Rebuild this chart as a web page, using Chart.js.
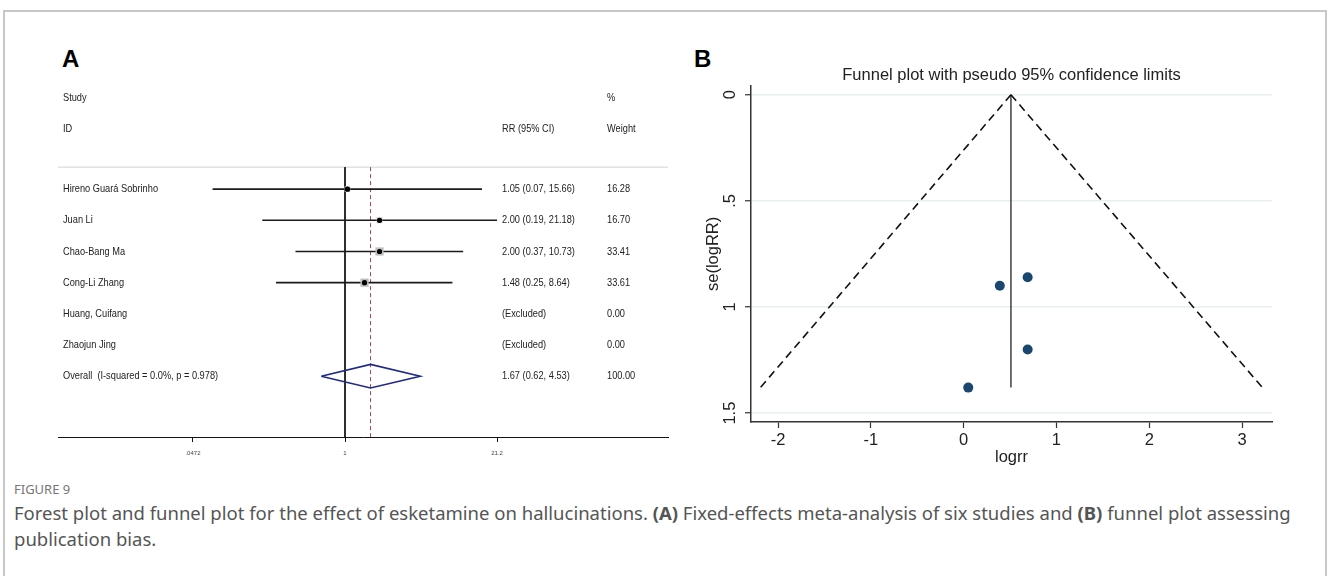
<!DOCTYPE html>
<html>
<head>
<meta charset="utf-8">
<script src="https://cdn.jsdelivr.net/npm/chart.js@4.4.7/dist/chart.umd.min.js"></script>
<style>
  body { margin: 0; width: 1328px; height: 576px; background: #fff; overflow: hidden; position: relative; font-family: "Liberation Sans", Arial, sans-serif; }
  #frame { position: absolute; left: 3px; top: 10px; width: 1320px; height: 600px; border: 2px solid #c8c8c8; border-bottom: none; }
  .panel-label { position: absolute; font: bold 24px "Liberation Sans", Arial, sans-serif; line-height: 24px; color: #000; }
  #forestWrap { position: absolute; left: 0; top: 0; width: 690px; height: 470px; }
  #funnelWrap { position: absolute; left: 680px; top: 40px; width: 640px; height: 440px; }
  #figTitle { position: absolute; left: 14px; top: 480px; font: 13px "Noto Sans", sans-serif; color: #777; }
  #caption { position: absolute; left: 14px; top: 500px; width: 1310px; font: 18.5px "Noto Sans", sans-serif; line-height: 26px; color: #555; }
</style>
</head>
<body>
<div id="frame"></div>
<div class="panel-label" style="left:62px; top:47px;">A</div>
<div class="panel-label" style="left:694px; top:47px;">B</div>
<div id="forestWrap"><canvas id="forestChart"></canvas></div>
<div id="funnelWrap"><canvas id="funnelChart"></canvas></div>
<div id="figTitle">FIGURE 9</div>
<div id="caption">Forest plot and funnel plot for the effect of esketamine on hallucinations. <b>(A)</b> Fixed-effects meta-analysis of six studies and <b>(B)</b> funnel plot assessing<br>publication bias.</div>

<script>
// forest plot (A)
const studies = ["Hireno Guará Sobrinho", "Juan Li", "Chao-Bang Ma", "Cong-Li Zhang", "Huang, Cuifang", "Zhaojun Jing"];
const rr = [1.05, 2.00, 2.00, 1.48, null, null];
const ciLow = [0.07, 0.19, 0.37, 0.25, null, null];
const ciHigh = [15.66, 21.18, 10.73, 8.64, null, null];
const weights = [16.28, 16.70, 33.41, 33.61, 0.00, 0.00];
const overallLabel = "Overall  (I-squared = 0.0%, p = 0.978)";
const pooledRR = 1.67;
const pooledLow = 0.62;
const pooledHigh = 4.53;
const forestTicks = [0.0472, 1, 21.2];
const forestTickLabels = [".0472", "1", "21.2"];

// funnel plot (B)
const logrr = [0.05, 0.69, 0.69, 0.39];
const seLogRR = [1.38, 1.20, 0.86, 0.90];
const pooledLogRR = 0.51;
const funnelBottom = 1.38;
const funnelLeft = -2.19;
const funnelRight = 3.22;
const logrrTicks = [-2, -1, 0, 1, 2, 3];
const seTicks = [0, 0.5, 1, 1.5];
const seTickLabels = ["0", ".5", "1", "1.5"];

const textColor = "#222222";
const tableFont = '11px "Liberation Sans", Arial, sans-serif';

const forestXMin = 0.00314;
const forestXMax = 656;
const sepRow = -0.705;
const forestYMin = -3.5;
const forestYMax = 7.95;
const overallRow = studies.length;

function rrText(i) {
  if (rr[i] === null) {
    return "(Excluded)";
  }
  return `${rr[i].toFixed(2)} (${ciLow[i].toFixed(2)}, ${ciHigh[i].toFixed(2)})`;
}

// narrow text like the Stata output
function narrowText(ctx, text, x, y) {
  ctx.save();
  ctx.translate(x, y);
  ctx.scale(0.84, 1);
  ctx.fillText(text, 0, 0);
  ctx.restore();
}

const forestTable = {
  id: "forestTable",
  afterDatasetsDraw(chart) {
    const ctx = chart.ctx;
    const yScale = chart.scales.y;
    const nameX = 63;
    const rrX = 502;
    const weightX = 607;
    ctx.save();
    ctx.font = tableFont;
    ctx.fillStyle = textColor;
    ctx.textBaseline = "middle";
    ctx.textAlign = "left";
    const headTop = yScale.getPixelForValue(-2.92);
    const headBottom = yScale.getPixelForValue(-1.92);
    narrowText(ctx, "Study", nameX, headTop);
    narrowText(ctx, "%", weightX, headTop);
    narrowText(ctx, "ID", nameX, headBottom);
    narrowText(ctx, "RR (95% CI)", rrX, headBottom);
    narrowText(ctx, "Weight", weightX, headBottom);
    studies.forEach((name, i) => {
      const y = yScale.getPixelForValue(i);
      narrowText(ctx, name, nameX, y);
      narrowText(ctx, rrText(i), rrX, y);
      narrowText(ctx, weights[i].toFixed(2), weightX, y);
    });
    const yo = yScale.getPixelForValue(overallRow);
    narrowText(ctx, overallLabel, nameX, yo);
    narrowText(ctx, `${pooledRR.toFixed(2)} (${pooledLow.toFixed(2)}, ${pooledHigh.toFixed(2)})`, rrX, yo);
    narrowText(ctx, "100.00", weightX, yo);
    ctx.restore();
  },
};

const ciSets = [];
studies.forEach((name, i) => {
  if (rr[i] === null) {
    return;
  }
  ciSets.push({
    data: [{ x: ciLow[i], y: i }, { x: ciHigh[i], y: i }],
    showLine: true,
    borderColor: "#1b1b1b",
    borderWidth: 1.6,
    pointRadius: 0,
    order: 3,
  });
});

const estPoints = [];
const boxSizes = [];
studies.forEach((name, i) => {
  if (rr[i] === null) {
    return;
  }
  estPoints.push({ x: rr[i], y: i });
  boxSizes.push(Math.sqrt(weights[i]));
});

new Chart(document.getElementById("forestChart"), {
  type: "scatter",
  data: {
    datasets: [
      {
        data: [{ x: forestXMin, y: sepRow }, { x: forestXMax, y: sepRow }],
        showLine: true,
        borderColor: "#d2d2d2",
        borderWidth: 1,
        pointRadius: 0,
        order: 6,
      },
      {
        data: [{ x: 1, y: sepRow }, { x: 1, y: forestYMax }],
        showLine: true,
        borderColor: "#111111",
        borderWidth: 1,
        pointRadius: 0,
        order: 5,
      },
      {
        data: [{ x: pooledRR, y: sepRow }, { x: pooledRR, y: forestYMax }],
        showLine: true,
        borderColor: "#a8405a",
        borderWidth: 1,
        borderDash: [4, 3],
        pointRadius: 0,
        order: 4,
      },
      ...ciSets,
      {
        data: estPoints,
        pointStyle: "rect",
        pointRadius: boxSizes,
        backgroundColor: "#bcbcbc",
        borderWidth: 0,
        order: 2,
      },
      {
        data: estPoints,
        pointStyle: "circle",
        pointRadius: 2.6,
        backgroundColor: "#000000",
        borderWidth: 0,
        order: 0,
      },
      {
        data: [
          { x: pooledLow, y: overallRow },
          { x: pooledRR, y: overallRow - 0.38 },
          { x: pooledHigh, y: overallRow },
          { x: pooledRR, y: overallRow + 0.38 },
          { x: pooledLow, y: overallRow },
        ],
        showLine: true,
        borderColor: "#1f2a86",
        borderWidth: 1.6,
        pointRadius: 0,
        tension: 0,
        order: 1,
      },
    ],
  },
  options: {
    responsive: true,
    maintainAspectRatio: false,
    animation: false,
    layout: { padding: { left: 58, right: 22, top: 80, bottom: 13 } },
    plugins: { legend: { display: false }, tooltip: { enabled: false } },
    scales: {
      x: {
        type: "logarithmic",
        min: forestXMin,
        max: forestXMax,
        afterBuildTicks(scale) {
          scale.ticks = forestTicks.map((v) => ({ value: v }));
        },
        afterFit(scale) {
          scale.height = 20;
        },
        ticks: {
          autoSkip: false,
          maxRotation: 0,
          padding: 8,
          color: "#444444",
          font: { size: 6, family: "Liberation Sans" },
          callback(value) {
            const idx = forestTicks.indexOf(value);
            return idx >= 0 ? forestTickLabels[idx] : "";
          },
        },
        grid: { drawOnChartArea: false, tickLength: 5, color: "#111111" },
        border: { color: "#111111", width: 1 },
      },
      y: {
        type: "linear",
        display: false,
        reverse: true,
        min: forestYMin,
        max: forestYMax,
      },
    },
  },
  plugins: [forestTable],
});

const fontB = { size: 16.5, family: "Liberation Sans" };

new Chart(document.getElementById("funnelChart"), {
  type: "scatter",
  data: {
    datasets: [
      {
        data: [{ x: pooledLogRR, y: 0 }, { x: funnelLeft, y: funnelBottom }],
        showLine: true,
        borderColor: "#111111",
        borderWidth: 1.6,
        borderDash: [8, 5],
        pointRadius: 0,
      },
      {
        data: [{ x: pooledLogRR, y: 0 }, { x: funnelRight, y: funnelBottom }],
        showLine: true,
        borderColor: "#111111",
        borderWidth: 1.6,
        borderDash: [8, 5],
        pointRadius: 0,
      },
      {
        data: [{ x: pooledLogRR, y: 0 }, { x: pooledLogRR, y: funnelBottom }],
        showLine: true,
        borderColor: "#111111",
        borderWidth: 1.2,
        pointRadius: 0,
      },
      {
        data: logrr.map((v, i) => ({ x: v, y: seLogRR[i] })),
        pointRadius: 5,
        backgroundColor: "#1a476f",
        borderWidth: 0,
      },
    ],
  },
  options: {
    responsive: true,
    maintainAspectRatio: false,
    animation: false,
    layout: { padding: { left: 21, right: 48, top: 0, bottom: 8 } },
    plugins: {
      legend: { display: false },
      tooltip: { enabled: false },
      title: {
        display: true,
        text: "Funnel plot with pseudo 95% confidence limits",
        color: textColor,
        fullSize: false,
        font: { size: 16.5, family: "Liberation Sans", weight: "normal" },
        padding: { top: 26, bottom: 0 },
      },
    },
    scales: {
      x: {
        type: "linear",
        min: -2.291,
        max: 3.323,
        afterBuildTicks(scale) {
          scale.ticks = logrrTicks.map((v) => ({ value: v }));
        },
        afterFit(scale) {
          scale.height = 50;
        },
        ticks: { color: textColor, font: fontB, padding: 3, maxRotation: 0 },
        grid: { drawOnChartArea: false, tickLength: 6, tickColor: "#333333", tickWidth: 1.2 },
        border: { color: "#333333", width: 1.5 },
        title: { display: true, text: "logrr", color: textColor, font: fontB, padding: { top: 0, bottom: 5 } },
      },
      y: {
        type: "linear",
        reverse: true,
        min: -0.042,
        max: 1.542,
        afterBuildTicks(scale) {
          scale.ticks = seTicks.map((v) => ({ value: v }));
        },
        afterFit(scale) {
          scale.width = 50;
        },
        ticks: {
          color: textColor,
          font: fontB,
          padding: 3,
          minRotation: 90,
          maxRotation: 90,
          crossAlign: "center",
          callback(value) {
            const idx = seTicks.indexOf(value);
            return idx >= 0 ? seTickLabels[idx] : "";
          },
        },
        grid: { color: "#e8eff1", lineWidth: 1.5, tickLength: 6, tickColor: "#333333", tickWidth: 1.2 },
        border: { color: "#333333", width: 1.5 },
        title: { display: true, text: "se(logRR)", color: textColor, font: fontB, padding: 3 },
      },
    },
  },
});
</script>
</body>
</html>
